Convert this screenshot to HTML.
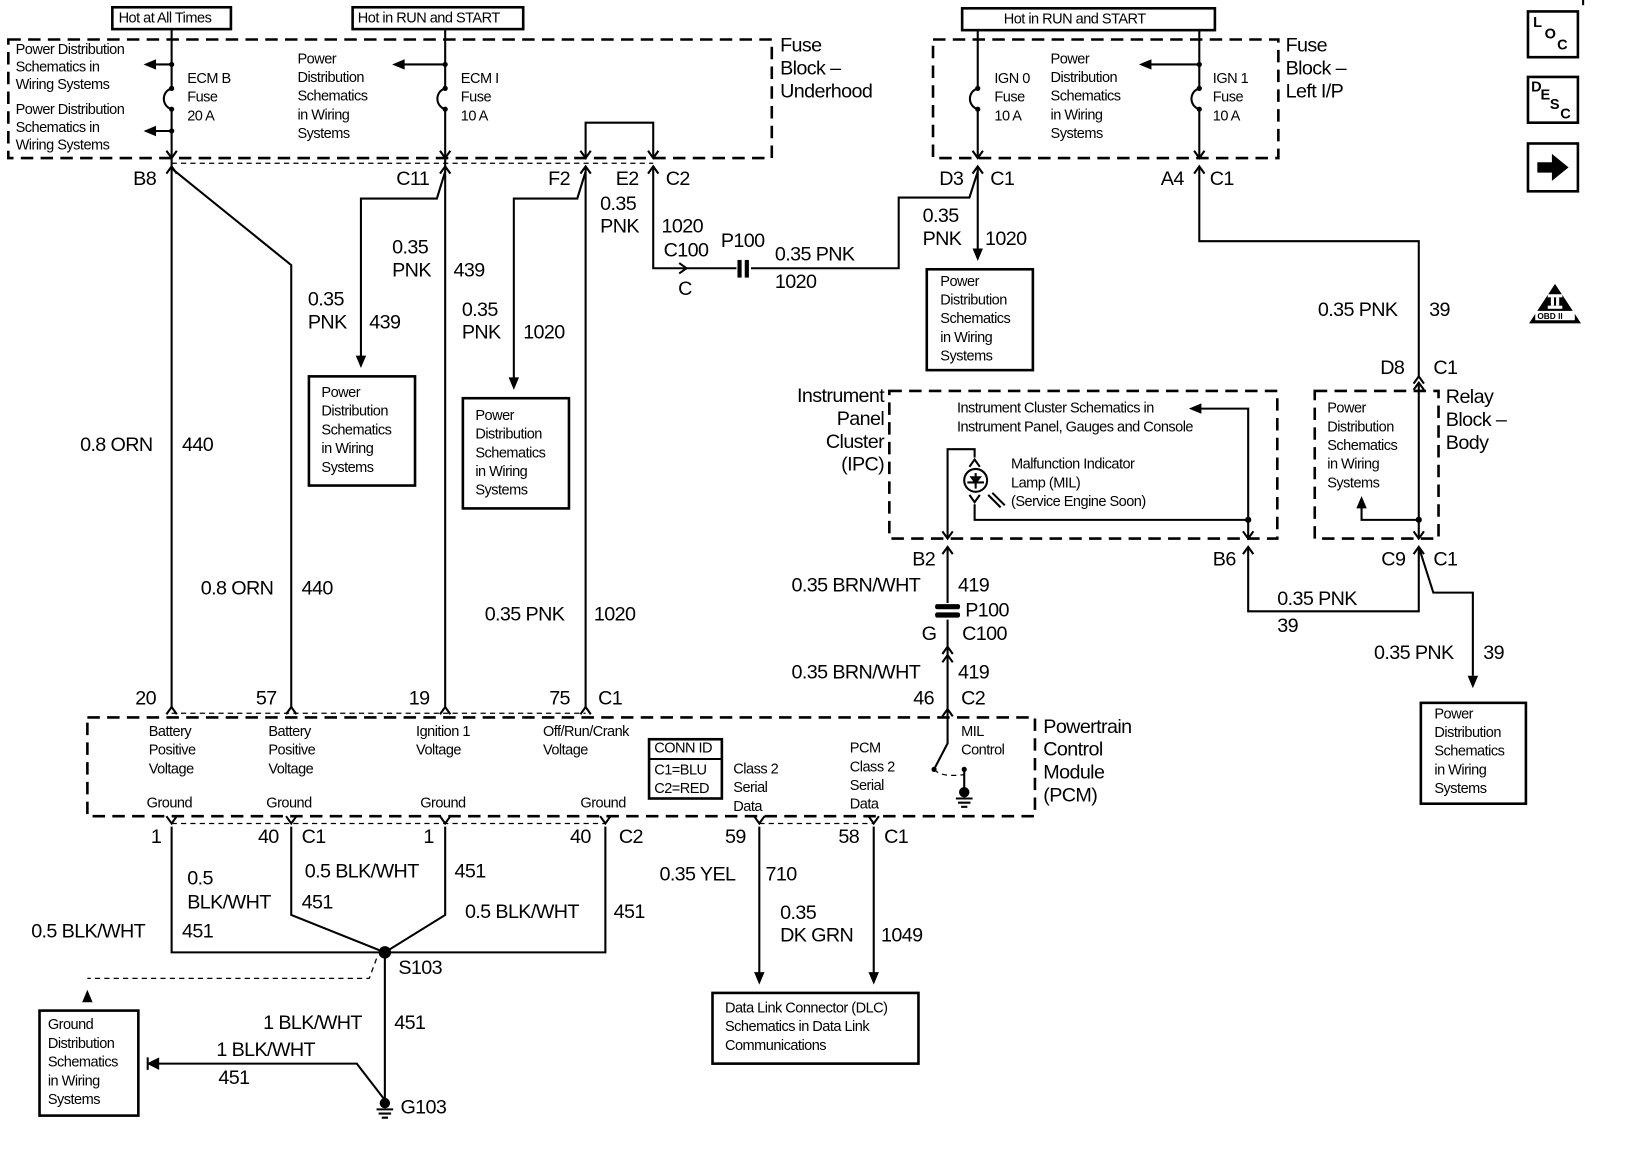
<!DOCTYPE html>
<html><head><meta charset="utf-8"><style>
html,body{margin:0;padding:0;background:#fff;}
svg{display:block}
text{font-family:"Liberation Sans",sans-serif;dominant-baseline:central;fill:#000}
.b{font-size:19px;letter-spacing:-0.6px}
.s{font-size:14px;letter-spacing:-0.5px}
.w{stroke:#000;stroke-width:2;fill:none}
.d{stroke:#000;stroke-width:2.5;fill:none;stroke-dasharray:12 7}
.t{stroke:#000;stroke-width:1.2;fill:none;stroke-dasharray:5 4}
.bx{stroke:#000;stroke-width:2.5;fill:#fff}
</style></head><body>
<svg width="1632" height="1152" viewBox="0 0 1569 1108" preserveAspectRatio="none">
<defs>
<path id="cd" d="M-5,-7 L0,0 L5,-7" stroke="#000" stroke-width="2" fill="none"/>
<path id="cu" d="M-5,7 L0,0 L5,7" stroke="#000" stroke-width="2" fill="none"/>
<path id="ad" d="M-5,-12 L5,-12 L0,0 Z" fill="#000"/>
<path id="au" d="M-5,12 L5,12 L0,0 Z" fill="#000"/>
<path id="al" d="M12,-5 L12,5 L0,0 Z" fill="#000"/>
</defs>
<!-- top labels -->
<rect x="108" y="7" width="114" height="21" class="bx" stroke-width="2"/><text x="114" y="18" class="s">Hot at All Times</text>
<rect x="339" y="7" width="164" height="21" class="bx" stroke-width="2"/><text x="344" y="18" class="s">Hot in RUN and START</text>
<rect x="925" y="8" width="243" height="21" class="bx" stroke-width="2"/><text x="965" y="19" class="s">Hot in RUN and START</text>
<!-- fuse block underhood -->
<rect x="8" y="38" width="734" height="114" class="d"/>
<text x="750" y="44" class="b">Fuse</text><text x="750" y="66" class="b">Block –</text><text x="750" y="88" class="b">Underhood</text>
<path class="w" d="M165,28 V85 M165,105 V680"/>
<path class="w" d="M165,85 c-10,3 -10,17 0,20"/>
<circle cx="165" cy="85" r="2.5"/><circle cx="165" cy="105" r="2.5"/>
<path class="w" d="M165,62 H145 M165,126 H145"/><use href="#al" x="138" y="62"/><use href="#al" x="138" y="126"/>
<circle cx="165" cy="62" r="2.5"/><circle cx="165" cy="126" r="2.5"/>
<text x="15" y="48" class="s">Power Distribution</text><text x="15" y="65" class="s">Schematics in</text><text x="15" y="82" class="s">Wiring Systems</text>
<text x="15" y="106" class="s">Power Distribution</text><text x="15" y="123" class="s">Schematics in</text><text x="15" y="140" class="s">Wiring Systems</text>
<text x="180" y="76" class="s">ECM B</text><text x="180" y="94" class="s">Fuse</text><text x="180" y="112" class="s">20 A</text>
<path class="w" d="M428,28 V85 M428,105 V680"/><path class="w" d="M428,85 c-10,3 -10,17 0,20"/>
<circle cx="428" cy="85" r="2.5"/><circle cx="428" cy="105" r="2.5"/><circle cx="428" cy="62" r="2.5"/>
<path class="w" d="M428,62 H385"/><use href="#al" x="377" y="62"/>
<text x="286" y="57" class="s">Power</text><text x="286" y="75" class="s">Distribution</text><text x="286" y="93" class="s">Schematics</text><text x="286" y="111" class="s">in Wiring</text><text x="286" y="129" class="s">Systems</text>
<text x="443" y="76" class="s">ECM I</text><text x="443" y="94" class="s">Fuse</text><text x="443" y="112" class="s">10 A</text>
<path class="w" d="M563,152 V118 H628 V152"/>
<use href="#cd" x="165" y="152"/><use href="#cd" x="428" y="152"/><use href="#cd" x="563" y="152"/><use href="#cd" x="628" y="152"/>
<path class="t" d="M165,157 H628"/>
<use href="#cu" x="165" y="160"/><use href="#cu" x="428" y="160"/><use href="#cu" x="563" y="160"/><use href="#cu" x="628" y="160"/>
<text x="128" y="172" class="b">B8</text><text x="381" y="172" class="b">C11</text><text x="527" y="172" class="b">F2</text><text x="592" y="172" class="b">E2</text><text x="640" y="172" class="b">C2</text>
<path class="w" d="M165,162 L280,255 V680"/>
<path class="w" d="M428,165 L420,191 H347 V345"/><use href="#ad" x="347" y="354"/>
<path class="w" d="M563,165 L555,191 H494 V366"/><use href="#ad" x="494" y="375"/>
<path class="w" d="M563,160 V680"/>
<path class="w" d="M628,160 V258 H708 M722,258 H864 V190 H932 L940,165"/>
<use href="#cd" x="660" y="258" transform="rotate(-90 660 258)"/>
<rect x="709" y="250" width="4" height="17" fill="#000"/><rect x="716" y="250" width="4" height="17" fill="#000"/>
<text x="577" y="196" class="b">0.35</text><text x="577" y="218" class="b">PNK</text><text x="636" y="218" class="b">1020</text><text x="638" y="241" class="b">C100</text><text x="652" y="278" class="b">C</text><text x="693" y="232" class="b">P100</text>
<text x="745" y="245" class="b">0.35 PNK</text><text x="745" y="271" class="b">1020</text>
<text x="377" y="238" class="b">0.35</text><text x="377" y="260" class="b">PNK</text><text x="436" y="260" class="b">439</text>
<text x="296" y="288" class="b">0.35</text><text x="296" y="310" class="b">PNK</text><text x="355" y="310" class="b">439</text>
<text x="444" y="298" class="b">0.35</text><text x="444" y="320" class="b">PNK</text><text x="503" y="320" class="b">1020</text>
<rect x="297" y="362" width="102" height="105" class="bx"/>
<text x="309" y="378" class="s">Power</text><text x="309" y="396" class="s">Distribution</text><text x="309" y="414" class="s">Schematics</text><text x="309" y="432" class="s">in Wiring</text><text x="309" y="450" class="s">Systems</text>
<rect x="445" y="383" width="102" height="106" class="bx"/>
<text x="457" y="400" class="s">Power</text><text x="457" y="418" class="s">Distribution</text><text x="457" y="436" class="s">Schematics</text><text x="457" y="454" class="s">in Wiring</text><text x="457" y="472" class="s">Systems</text>
<text x="77" y="428" class="b">0.8 ORN</text><text x="175" y="428" class="b">440</text>
<text x="193" y="566" class="b">0.8 ORN</text><text x="290" y="566" class="b">440</text>
<text x="466" y="591" class="b">0.35 PNK</text><text x="571" y="591" class="b">1020</text>
<!-- PCM top connectors -->
<text x="130" y="672" class="b">20</text><text x="246" y="672" class="b">57</text><text x="393" y="672" class="b">19</text><text x="528" y="672" class="b">75</text><text x="575" y="672" class="b">C1</text>
<use href="#cd" x="165" y="680" transform="rotate(180 165 680)"/><use href="#cd" x="280" y="680" transform="rotate(180 280 680)"/><use href="#cd" x="428" y="680" transform="rotate(180 428 680)"/><use href="#cd" x="563" y="680" transform="rotate(180 563 680)"/>
<path class="t" d="M165,686 H563"/>
<rect x="84" y="690" width="911" height="95" class="d"/>
<text x="1003" y="699" class="b">Powertrain</text><text x="1003" y="721" class="b">Control</text><text x="1003" y="743" class="b">Module</text><text x="1003" y="765" class="b">(PCM)</text>
<text x="143" y="704" class="s">Battery</text><text x="143" y="722" class="s">Positive</text><text x="143" y="740" class="s">Voltage</text>
<text x="258" y="704" class="s">Battery</text><text x="258" y="722" class="s">Positive</text><text x="258" y="740" class="s">Voltage</text>
<text x="400" y="704" class="s">Ignition 1</text><text x="400" y="722" class="s">Voltage</text>
<text x="522" y="704" class="s">Off/Run/Crank</text><text x="522" y="722" class="s">Voltage</text>
<text x="141" y="773" class="s">Ground</text><text x="256" y="773" class="s">Ground</text><text x="404" y="773" class="s">Ground</text><text x="558" y="773" class="s">Ground</text>
<rect x="624" y="711" width="70" height="57" class="bx"/><path class="w" d="M624,730 H694"/>
<text x="629" y="720" class="s">CONN ID</text><text x="629" y="741" class="s">C1=BLU</text><text x="629" y="759" class="s">C2=RED</text>
<text x="705" y="740" class="s">Class 2</text><text x="705" y="758" class="s">Serial</text><text x="705" y="776" class="s">Data</text>
<text x="817" y="720" class="s">PCM</text><text x="817" y="738" class="s">Class 2</text><text x="817" y="756" class="s">Serial</text><text x="817" y="774" class="s">Data</text>
<text x="924" y="704" class="s">MIL</text><text x="924" y="722" class="s">Control</text>
<path class="w" d="M911,690 V715 L899,738"/><circle cx="898" cy="740" r="2.5"/><circle cx="927" cy="740" r="2.5"/>
<path class="w" d="M927,740 V760 M919,768 H935 M921,772 H933 M924,776 H930"/><circle cx="927" cy="762" r="5"/>
<path class="t" d="M898,740 Q905,748 927,745" stroke-width="1"/>
<!-- PCM bottom -->
<use href="#cu" x="165" y="792" transform="rotate(180 165 792)"/><use href="#cu" x="280" y="792" transform="rotate(180 280 792)"/><use href="#cu" x="428" y="792" transform="rotate(180 428 792)"/><use href="#cu" x="582" y="792" transform="rotate(180 582 792)"/><use href="#cu" x="730" y="792" transform="rotate(180 730 792)"/><use href="#cu" x="840" y="792" transform="rotate(180 840 792)"/>
<path class="t" d="M165,792 H582 M730,792 H840"/>
<text x="145" y="805" class="b">1</text><text x="248" y="805" class="b">40</text><text x="290" y="805" class="b">C1</text><text x="407" y="805" class="b">1</text><text x="548" y="805" class="b">40</text><text x="595" y="805" class="b">C2</text><text x="697" y="805" class="b">59</text><text x="806" y="805" class="b">58</text><text x="850" y="805" class="b">C1</text>
<path class="w" d="M165,795 V916 H582 V795 M280,795 V880 L370,916 L428,880 V795 M370,916 V1058"/>
<circle cx="370" cy="916" r="6" fill="#000"/>
<path class="t" d="M362,922 L355,941 H84" stroke-width="2"/><use href="#au" x="84" y="952"/>
<rect x="38" y="972" width="95" height="101" class="bx"/>
<text x="46" y="986" class="s">Ground</text><text x="46" y="1004" class="s">Distribution</text><text x="46" y="1022" class="s">Schematics</text><text x="46" y="1040" class="s">in Wiring</text><text x="46" y="1058" class="s">Systems</text>
<path class="w" d="M150,1023 H343 L370,1058"/><path d="M141,1023 L153,1017 L153,1029 Z" fill="#000"/><path class="w" d="M142,1017 V1029"/>
<circle cx="370" cy="1061" r="5"/><path class="w" d="M362,1067 H378 M364,1071 H376 M367,1075 H373"/>
<text x="180" y="845" class="b">0.5</text><text x="180" y="868" class="b">BLK/WHT</text><text x="290" y="868" class="b">451</text>
<text x="293" y="838" class="b">0.5 BLK/WHT</text><text x="437" y="838" class="b">451</text>
<text x="30" y="896" class="b">0.5 BLK/WHT</text><text x="175" y="896" class="b">451</text>
<text x="447" y="877" class="b">0.5 BLK/WHT</text><text x="590" y="877" class="b">451</text>
<text x="383" y="931" class="b">S103</text>
<text x="253" y="984" class="b">1 BLK/WHT</text><text x="379" y="984" class="b">451</text>
<text x="208" y="1010" class="b">1 BLK/WHT</text><text x="210" y="1037" class="b">451</text>
<text x="385" y="1065" class="b">G103</text>
<path class="w" d="M730,795 V936 M840,795 V936"/><use href="#ad" x="730" y="947"/><use href="#ad" x="840" y="947"/>
<text x="634" y="841" class="b">0.35 YEL</text><text x="736" y="841" class="b">710</text>
<text x="750" y="878" class="b">0.35</text><text x="750" y="900" class="b">DK GRN</text><text x="847" y="900" class="b">1049</text>
<rect x="685" y="955" width="198" height="68" class="bx"/>
<text x="697" y="970" class="s">Data Link Connector (DLC)</text><text x="697" y="988" class="s">Schematics in Data Link</text><text x="697" y="1006" class="s">Communications</text>
<!-- fuse block left IP -->
<rect x="897" y="38" width="332" height="114" class="d"/>
<text x="1236" y="44" class="b">Fuse</text><text x="1236" y="66" class="b">Block –</text><text x="1236" y="88" class="b">Left I/P</text>
<path class="w" d="M940,29 V85 M940,105 V152 M940,85 c-10,3 -10,17 0,20"/><circle cx="940" cy="85" r="2.5"/><circle cx="940" cy="105" r="2.5"/>
<path class="w" d="M1153,29 V85 M1153,105 V152 M1153,85 c-10,3 -10,17 0,20"/><circle cx="1153" cy="85" r="2.5"/><circle cx="1153" cy="105" r="2.5"/><circle cx="1153" cy="62" r="2.5"/>
<path class="w" d="M1153,62 H1103"/><use href="#al" x="1095" y="62"/>
<text x="956" y="76" class="s">IGN 0</text><text x="956" y="94" class="s">Fuse</text><text x="956" y="112" class="s">10 A</text>
<text x="1010" y="57" class="s">Power</text><text x="1010" y="75" class="s">Distribution</text><text x="1010" y="93" class="s">Schematics</text><text x="1010" y="111" class="s">in Wiring</text><text x="1010" y="129" class="s">Systems</text>
<text x="1166" y="76" class="s">IGN 1</text><text x="1166" y="94" class="s">Fuse</text><text x="1166" y="112" class="s">10 A</text>
<use href="#cd" x="940" y="152"/><use href="#cd" x="1153" y="152"/><use href="#cu" x="940" y="160"/><use href="#cu" x="1153" y="160"/>
<text x="903" y="172" class="b">D3</text><text x="952" y="172" class="b">C1</text><text x="1116" y="172" class="b">A4</text><text x="1163" y="172" class="b">C1</text>
<path class="w" d="M940,160 V240"/><use href="#ad" x="940" y="251"/>
<text x="887" y="208" class="b">0.35</text><text x="887" y="230" class="b">PNK</text><text x="947" y="230" class="b">1020</text>
<rect x="891" y="259" width="102" height="97" class="bx"/>
<text x="904" y="271" class="s">Power</text><text x="904" y="289" class="s">Distribution</text><text x="904" y="307" class="s">Schematics</text><text x="904" y="325" class="s">in Wiring</text><text x="904" y="343" class="s">Systems</text>
<path class="w" d="M1153,160 V232 H1364 V362"/><use href="#cd" x="1364" y="362" transform="rotate(180 1364 362)"/>
<text x="1267" y="298" class="b">0.35 PNK</text><text x="1374" y="298" class="b">39</text>
<text x="1327" y="354" class="b">D8</text><text x="1378" y="354" class="b">C1</text>
<!-- relay block -->
<rect x="1264" y="376" width="119" height="142" class="d"/>
<text x="1390" y="382" class="b">Relay</text><text x="1390" y="404" class="b">Block –</text><text x="1390" y="426" class="b">Body</text>
<text x="1276" y="393" class="s">Power</text><text x="1276" y="411" class="s">Distribution</text><text x="1276" y="429" class="s">Schematics</text><text x="1276" y="447" class="s">in Wiring</text><text x="1276" y="465" class="s">Systems</text>
<path class="w" d="M1364,368 V518 M1364,500 H1309 V488"/><use href="#au" x="1309" y="477"/><circle cx="1364" cy="500" r="3"/>
<use href="#cu" x="1364" y="368"/><use href="#cd" x="1364" y="518"/>
<!-- IPC -->
<rect x="855" y="376" width="373" height="142" class="d"/>
<text x="850" y="381" class="b" text-anchor="end">Instrument</text><text x="850" y="403" class="b" text-anchor="end">Panel</text><text x="850" y="425" class="b" text-anchor="end">Cluster</text><text x="850" y="447" class="b" text-anchor="end">(IPC)</text>
<text x="920" y="393" class="s">Instrument Cluster Schematics in</text><text x="920" y="411" class="s">Instrument Panel, Gauges and Console</text>
<path class="w" d="M1200,518 V393 H1153"/><use href="#al" x="1143" y="393"/>
<path class="w" d="M1200,500 H937 V485 M937,440 V432 H911 V518"/><circle cx="1200" cy="500" r="3"/>
<circle cx="938" cy="462" r="11" class="w"/><path class="w" d="M930,464 H946 M938,455 V470"/><path d="M932,458 H944 L938,466 Z" fill="#000"/>
<use href="#cu" x="937" y="442"/><use href="#cd" x="937" y="483"/>
<path class="w" d="M950,476 L962,488 M954,474 L966,486" stroke-width="1"/>
<text x="972" y="447" class="s">Malfunction Indicator</text><text x="972" y="465" class="s">Lamp (MIL)</text><text x="972" y="483" class="s">(Service Engine Soon)</text>
<use href="#cd" x="911" y="518"/><use href="#cd" x="1200" y="518"/>
<use href="#cu" x="911" y="526"/><use href="#cu" x="1200" y="526"/><use href="#cu" x="1364" y="526"/>
<text x="877" y="538" class="b">B2</text><text x="1166" y="538" class="b">B6</text><text x="1328" y="538" class="b">C9</text><text x="1378" y="538" class="b">C1</text>
<path class="w" d="M911,526 V580 M911,596 V690"/>
<rect x="899" y="581" width="24" height="5" rx="2" fill="#000"/><rect x="899" y="589" width="24" height="5" rx="2" fill="#000"/>
<use href="#cu" x="911" y="622"/><use href="#cu" x="911" y="630"/>
<text x="761" y="563" class="b">0.35 BRN/WHT</text><text x="921" y="563" class="b">419</text>
<text x="928" y="587" class="b">P100</text><text x="886" y="610" class="b">G</text><text x="925" y="610" class="b">C100</text>
<text x="761" y="647" class="b">0.35 BRN/WHT</text><text x="921" y="647" class="b">419</text>
<text x="878" y="672" class="b">46</text><text x="924" y="672" class="b">C2</text>
<use href="#cd" x="911" y="682" transform="rotate(180 911 682)"/>
<path class="w" d="M1200,526 V588 H1364 V526 M1364,526 L1378,570 H1416 V650"/><use href="#ad" x="1416" y="662"/>
<text x="1228" y="576" class="b">0.35 PNK</text><text x="1228" y="602" class="b">39</text>
<text x="1321" y="628" class="b">0.35 PNK</text><text x="1426" y="628" class="b">39</text>
<rect x="1366" y="676" width="101" height="97" class="bx"/>
<text x="1379" y="687" class="s">Power</text><text x="1379" y="705" class="s">Distribution</text><text x="1379" y="723" class="s">Schematics</text><text x="1379" y="741" class="s">in Wiring</text><text x="1379" y="759" class="s">Systems</text>
<!-- icons -->
<rect x="1469" y="11" width="48" height="44" class="bx"/>
<text x="1474" y="22" class="s" style="font-weight:bold">L</text><text x="1485" y="33" class="s" style="font-weight:bold">O</text><text x="1497" y="44" class="s" style="font-weight:bold">C</text>
<rect x="1469" y="74" width="48" height="44" class="bx"/>
<text x="1472" y="84" class="s" style="font-weight:bold">D</text><text x="1481" y="92" class="s" style="font-weight:bold">E</text><text x="1490" y="101" class="s" style="font-weight:bold">S</text><text x="1500" y="110" class="s" style="font-weight:bold">C</text>
<rect x="1469" y="138" width="48" height="46" class="bx"/>
<path d="M1478,156 H1492 V148 L1508,161 L1492,174 V166 H1478 Z" fill="#000"/>
<path d="M1495,273 L1520,311 L1470,311 Z" fill="#000"/>
<rect x="1488" y="283" width="14" height="3" fill="#fff"/><rect x="1488" y="294" width="14" height="3" fill="#fff"/><rect x="1491" y="286" width="3" height="8" fill="#fff"/><rect x="1496" y="286" width="3" height="8" fill="#fff"/>
<rect x="1476" y="299" width="38" height="9" fill="#fff"/><text x="1478" y="304" style="font-size:8px;font-weight:bold">OBD II</text>
<path class="w" d="M1522,0 V5" stroke-width="1"/>
</svg>
</body></html>
